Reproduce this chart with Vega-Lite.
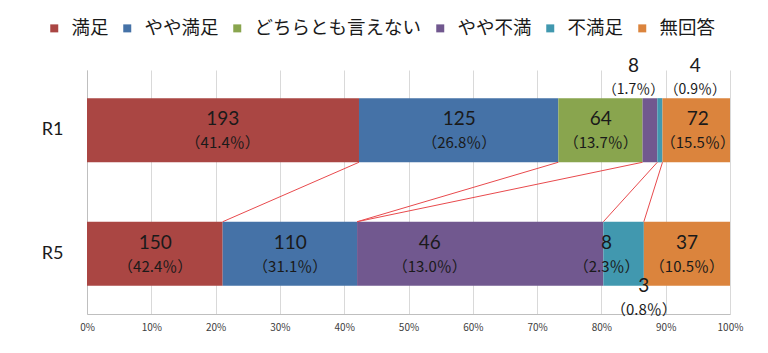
{
  "$schema": "https://vega.github.io/schema/vega-lite/v6.json",
  "width": 643,
  "height": 244,
  "autosize": {"type": "none"},
  "padding": {"left": 87, "top": 70, "right": 38, "bottom": 39},
  "background": "white",
  "config": {"view": {"stroke": null}},
  "datasets": {
    "bars": [
      {"row": "R1", "cat": "満足", "k": 1, "v": 42.3},
      {"row": "R1", "cat": "やや満足", "k": 2, "v": 31.0},
      {"row": "R1", "cat": "どちらとも言えない", "k": 3, "v": 13.1},
      {"row": "R1", "cat": "やや不満", "k": 4, "v": 2.3},
      {"row": "R1", "cat": "不満足", "k": 5, "v": 0.8},
      {"row": "R1", "cat": "無回答", "k": 6, "v": 10.5},
      {"row": "R5", "cat": "満足", "k": 1, "v": 21.1},
      {"row": "R5", "cat": "やや満足", "k": 2, "v": 20.9},
      {"row": "R5", "cat": "どちらとも言えない", "k": 3, "v": 0},
      {"row": "R5", "cat": "やや不満", "k": 4, "v": 38.3},
      {"row": "R5", "cat": "不満足", "k": 5, "v": 6.3},
      {"row": "R5", "cat": "無回答", "k": 6, "v": 13.4}
    ],
    "links": [
      {"a": 42.3, "b": 21.1},
      {"a": 73.3, "b": 42.0},
      {"a": 86.4, "b": 42.0},
      {"a": 88.7, "b": 80.3},
      {"a": 89.5, "b": 86.6}
    ],
    "labels": [
      {"row": "R1", "n": 193, "pct": "（41.4％）", "x": 21.1, "place": "in"},
      {"row": "R1", "n": 125, "pct": "（26.8％）", "x": 57.9, "place": "in"},
      {"row": "R1", "n": 64, "pct": "（13.7％）", "x": 79.9, "place": "in"},
      {"row": "R1", "n": 8, "pct": "（1.7％）", "x": 85.0, "place": "above"},
      {"row": "R1", "n": 4, "pct": "（0.9％）", "x": 94.6, "place": "above"},
      {"row": "R1", "n": 72, "pct": "（15.5％）", "x": 95.0, "place": "in"},
      {"row": "R5", "n": 150, "pct": "（42.4％）", "x": 10.6, "place": "in"},
      {"row": "R5", "n": 110, "pct": "（31.1％）", "x": 31.6, "place": "in"},
      {"row": "R5", "n": 46, "pct": "（13.0％）", "x": 53.3, "place": "in"},
      {"row": "R5", "n": 8, "pct": "（2.3％）", "x": 80.8, "place": "in"},
      {"row": "R5", "n": 3, "pct": "（0.8％）", "x": 86.6, "place": "below"},
      {"row": "R5", "n": 37, "pct": "（10.5％）", "x": 93.3, "place": "in"}
    ]
  },
  "layer": [
    {
      "data": {"name": "bars"},
      "mark": {"type": "bar"},
      "encoding": {
        "y": {
          "field": "row", "type": "nominal",
          "scale": {"paddingInner": 0.48, "paddingOuter": 0.228},
          "axis": {"title": null, "ticks": false, "domain": true, "domainColor": "#bfbfbf", "labelFont": "Lato", "labelFontSize": 18, "labelColor": "#1a1a1a", "labelPadding": 24}
        },
        "x": {
          "field": "v", "type": "quantitative", "stack": "zero",
          "scale": {"domain": [0, 100], "nice": false},
          "axis": {"title": null, "values": [0, 10, 20, 30, 40, 50, 60, 70, 80, 90, 100], "labelExpr": "datum.value + '%'", "labelFlush": false, "grid": true, "gridColor": "#d9d9d9", "ticks": false, "domain": true, "domainColor": "#bfbfbf", "labelFont": "Noto Sans CJK JP", "labelFontSize": 10, "labelColor": "#404040", "labelPadding": 8}
        },
        "color": {
          "field": "cat", "type": "nominal",
          "scale": {
            "domain": ["満足", "やや満足", "どちらとも言えない", "やや不満", "不満足", "無回答"],
            "range": ["#AA4643", "#4572A7", "#89A54E", "#71588F", "#4198AF", "#DB843D"]
          },
          "legend": {
            "title": null, "orient": "none", "direction": "horizontal", "columns": 6,
            "legendX": -42, "legendY": -51,
            "symbolType": "square", "symbolSize": 64, "symbolStrokeWidth": 0,
            "labelFont": "Noto Sans CJK JP", "labelFontSize": 18.5, "labelColor": "#1a1a1a",
            "labelLimit": 0, "labelOffset": 8, "columnPadding": 9
          }
        },
        "order": {"field": "k", "type": "quantitative"}
      }
    },
    {
      "data": {"name": "links"},
      "mark": {"type": "rule", "color": "#e84a4d", "strokeWidth": 1, "yOffset": 32, "y2Offset": -32},
      "encoding": {
        "x": {"field": "a", "type": "quantitative"},
        "x2": {"field": "b"},
        "y": {"datum": "R1", "type": "nominal"},
        "y2": {"datum": "R5"}
      }
    },
    {
      "data": {"name": "labels"},
      "transform": [{"filter": "datum.place == 'in'"}],
      "mark": {"type": "text", "font": "Lato", "fontSize": 19, "color": "#1a1a1a", "dy": -11},
      "encoding": {"x": {"field": "x", "type": "quantitative"}, "y": {"field": "row", "type": "nominal"}, "text": {"field": "n"}}
    },
    {
      "data": {"name": "labels"},
      "transform": [{"filter": "datum.place == 'in'"}],
      "mark": {"type": "text", "font": "Noto Sans CJK JP", "fontSize": 15, "color": "#1a1a1a", "dy": 13},
      "encoding": {"x": {"field": "x", "type": "quantitative"}, "y": {"field": "row", "type": "nominal"}, "text": {"field": "pct"}}
    },
    {
      "data": {"name": "labels"},
      "transform": [{"filter": "datum.place == 'above'"}],
      "mark": {"type": "text", "font": "Lato", "fontSize": 19, "color": "#1a1a1a", "dy": -64},
      "encoding": {"x": {"field": "x", "type": "quantitative"}, "y": {"field": "row", "type": "nominal"}, "text": {"field": "n"}}
    },
    {
      "data": {"name": "labels"},
      "transform": [{"filter": "datum.place == 'above'"}],
      "mark": {"type": "text", "font": "Noto Sans CJK JP", "fontSize": 14, "color": "#1a1a1a", "dy": -40},
      "encoding": {"x": {"field": "x", "type": "quantitative"}, "y": {"field": "row", "type": "nominal"}, "text": {"field": "pct"}}
    },
    {
      "data": {"name": "labels"},
      "transform": [{"filter": "datum.place == 'below'"}],
      "mark": {"type": "text", "font": "Lato", "fontSize": 19, "color": "#1a1a1a", "dy": 32},
      "encoding": {"x": {"field": "x", "type": "quantitative"}, "y": {"field": "row", "type": "nominal"}, "text": {"field": "n"}}
    },
    {
      "data": {"name": "labels"},
      "transform": [{"filter": "datum.place == 'below'"}],
      "mark": {"type": "text", "font": "Noto Sans CJK JP", "fontSize": 15, "color": "#1a1a1a", "dy": 56},
      "encoding": {"x": {"field": "x", "type": "quantitative"}, "y": {"field": "row", "type": "nominal"}, "text": {"field": "pct"}}
    }
  ]
}
